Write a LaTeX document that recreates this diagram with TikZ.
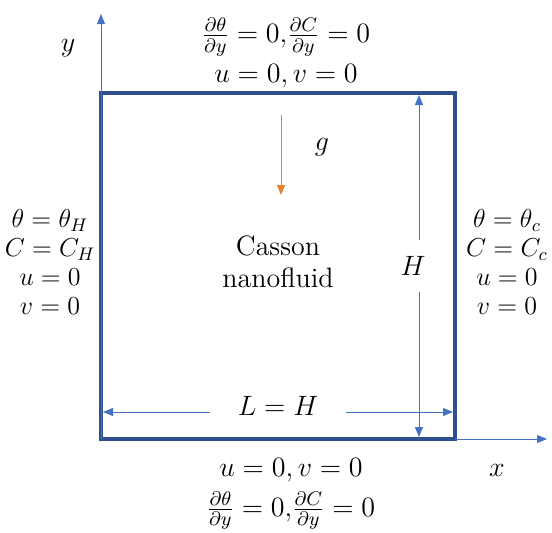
\RequirePackage{fix-cm}
\documentclass[tikz,border=0pt]{standalone}
\usepackage{amsmath,amssymb}
\usepackage{xcolor}
\usetikzlibrary{arrows.meta,positioning}

\definecolor{wallblue}{HTML}{2F4F8F}
\definecolor{dimblue}{HTML}{4472C4}
\definecolor{gorange}{HTML}{ED7D31}

\begin{document}
\begin{tikzpicture}[
    x=0.5pt, y=0.5pt,
    wall/.style={draw=wallblue, line width=2pt, minimum width=177pt, minimum height=173pt, inner sep=0pt, outer sep=0pt},
    dim/.style={{Triangle[length=5pt,width=4pt]}-{Triangle[length=5pt,width=4pt]}, dimblue, line width=0.5pt},
    axis/.style={-{Triangle[length=5pt,width=4pt]}, dimblue, line width=0.5pt},
    bc/.style={align=center, text=black, font=\fontsize{13}{14.5}\selectfont},
    wallbc/.style={align=center, text=black, font=\fontsize{14}{20}\selectfont},
    lbl/.style={text=black, font=\fontsize{14}{16}\selectfont}
]
\useasboundingbox (0,0) rectangle (552,532);

% Cavity
\node[wall] (cavity) at (278,266) {};
\node[align=center, font=\fontsize{14}{16}\selectfont] (fluid) at (278,270) {Casson\\nanofluid};

% Axes
\coordinate (yend) at (101,518);
\coordinate (xend) at (547,93);
\draw[axis] (cavity.south west) -- (yend);
\draw[axis] (cavity.south east) -- (xend);
\node[lbl] (ylab) at (68,484) {$y$};
\node[lbl] (xlab) at (497,62) {$x$};

% Dimensions
\coordinate (Htop) at (419,437);
\coordinate (Hbot) at (419,95);
\draw[dim] (Htop) -- node[lbl, fill=white, inner xsep=1pt, inner ysep=8pt, xshift=-3pt] (Hlab) {$H$} (Hbot);
\coordinate (Lleft) at (103,120);
\coordinate (Lright) at (453,120);
\draw[dim] (Lleft) -- node[lbl, fill=white, inner xsep=14pt, yshift=3pt] (Llab) {$L = H$} (Lright);

% Gravity
\coordinate (gtop) at (281,417);
\coordinate (gbot) at (281,337);
\draw[-{Triangle[length=5pt,width=4pt]}, gorange, line width=0.5pt] (gtop) -- (gbot);
\node[lbl] (glab) at (322,385) {$g$};

% Boundary conditions
\node[wallbc] (top) at (286,479) {$\frac{\partial\theta}{\partial y} = 0{,}\frac{\partial C}{\partial y} = 0$\\$u = 0, v = 0$};
\node[wallbc] (bottom) at (291,38) {$u = 0, v = 0$\\$\frac{\partial\theta}{\partial y} = 0{,}\frac{\partial C}{\partial y} = 0$};
\node[bc] (hot) at (50,270) {$\theta = \theta_H$\\$C = C_H$\\$u = 0$\\$v = 0$};
\node[bc] (cold) at (507,270) {$\theta = \theta_c$\\$C = C_c$\\$u = 0$\\$v = 0$};
\end{tikzpicture}
\end{document}
